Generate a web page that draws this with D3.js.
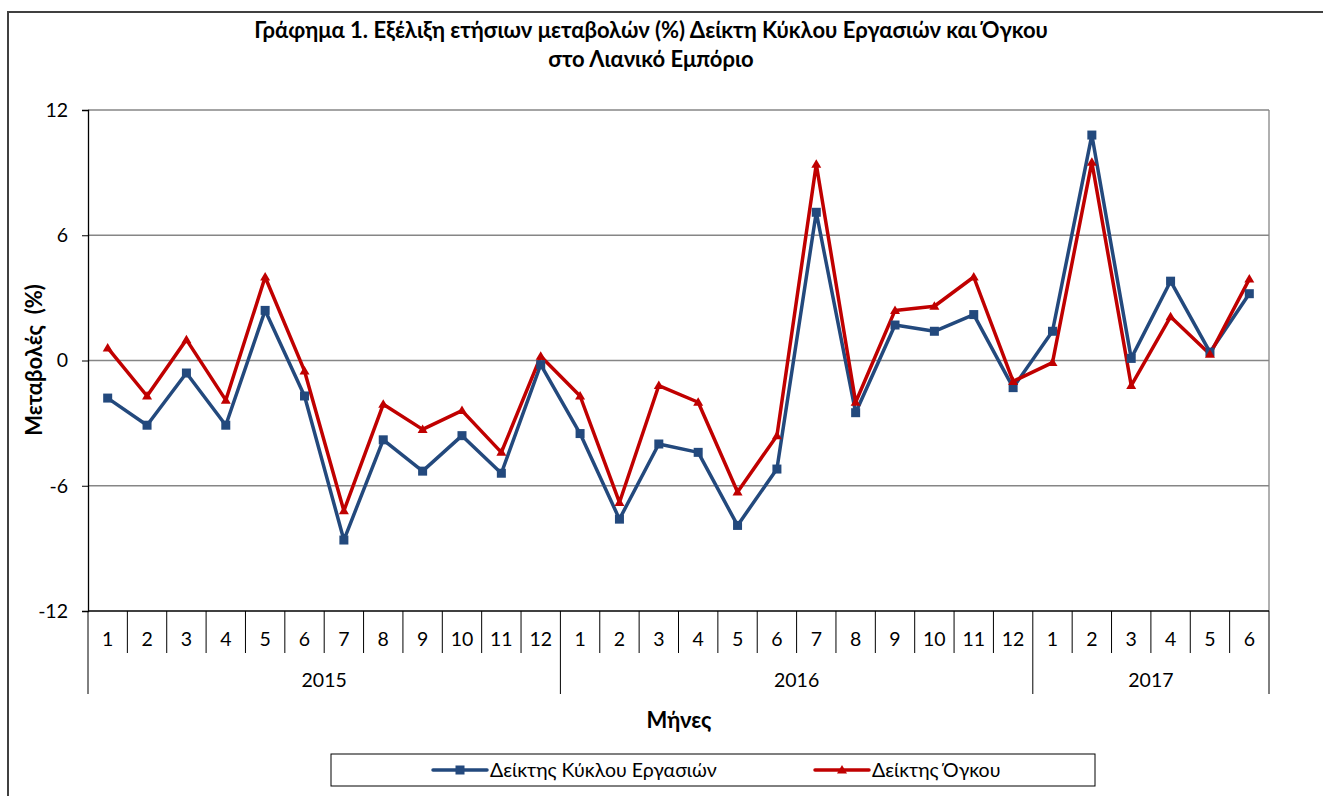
<!DOCTYPE html>
<html>
<head>
<meta charset="utf-8">
<script src="https://cdn.jsdelivr.net/npm/d3@7"></script>
<style>
    body { margin: 0; background: white; }
</style>
</head>
<body>
<script>

// -- data --

var months = ["1","2","3","4","5","6","7","8","9","10","11","12",
              "1","2","3","4","5","6","7","8","9","10","11","12",
              "1","2","3","4","5","6"];
var years = ["2015", "2016", "2017"];
var yearLengths = [12, 12, 6];
var yTicks = [-12, -6, 0, 6, 12];

var turnover = [-1.8, -3.1, -0.6, -3.1, 2.4, -1.7, -8.6, -3.8, -5.3, -3.6, -5.4, -0.2,
                -3.5, -7.6, -4.0, -4.4, -7.9, -5.2, 7.1, -2.5, 1.7, 1.4, 2.2, -1.3,
                1.4, 10.8, 0.1, 3.8, 0.4, 3.2];
var volume = [0.6, -1.7, 1.0, -1.9, 4.0, -0.5, -7.2, -2.1, -3.3, -2.4, -4.4, 0.2,
              -1.7, -6.8, -1.2, -2.0, -6.3, -3.6, 9.4, -2.0, 2.4, 2.6, 4.0, -1.0,
              -0.1, 9.5, -1.2, 2.1, 0.3, 3.9];

var seriesNames = ["Δείκτης Κύκλου Εργασιών", "Δείκτης Όγκου"];


// -- layout --

var width = 1323;
var height = 796;
// note: "top" would clash with window.top
var plotLeft = 88, plotRight = 1269, plotTop = 110, plotBottom = 611;
var font = "Lato, 'Open Sans', sans-serif";
var fs = "19.5px";
var blue = "#23497d";
var red = "#c00000";
var grid = "#868686";

var svg = d3.select("body").append("svg")
    .attr("width", width)
    .attr("height", height);

// outer frame (runs off the picture on the right and bottom)
svg.append("rect")
    .attr("x", 8).attr("y", 12)
    .attr("width", width + 20).attr("height", height + 20)
    .style("fill", "white")
    .style("stroke", "#404040")
    .style("stroke-width", 2);

var idx = d3.range(months.length);

var x = d3.scaleBand()
    .domain(idx)
    .range([plotLeft, plotRight]);

var y = d3.scaleLinear()
    .domain([-12, 12])
    .range([plotBottom, plotTop]);

var cx = function (i) { return x(i) + x.bandwidth() / 2; };

// gridlines
svg.append("g")
    .selectAll("line")
    .data(yTicks.filter(function (t) { return t > -12; }))
    .join("line")
    .attr("x1", plotLeft).attr("x2", plotRight)
    .attr("y1", function (d) { return y(d); })
    .attr("y2", function (d) { return y(d); })
    .style("stroke", grid)
    .style("stroke-width", 1.3);

// right border of plot
svg.append("line")
    .attr("x1", plotRight).attr("x2", plotRight)
    .attr("y1", plotTop).attr("y2", plotBottom)
    .style("stroke", grid)
    .style("stroke-width", 1.3);

// y axis (plain hyphen for negatives, like the original)
var yAxis = svg.append("g")
    .attr("transform", "translate(" + plotLeft + ",0)")
    .call(d3.axisLeft(y)
        .tickValues(yTicks)
        .tickFormat(function (d) { return String(d); })
        .tickSize(6).tickPadding(14));
yAxis.select(".domain").style("stroke", "black").style("stroke-width", 1.3);
yAxis.selectAll(".tick line").style("stroke", "black");
yAxis.selectAll("text")
    .style("font-family", font)
    .style("font-size", fs)
    .style("fill", "black");

// x axis: months
svg.append("line")
    .attr("x1", plotLeft).attr("x2", plotRight)
    .attr("y1", plotBottom).attr("y2", plotBottom)
    .style("stroke", "black")
    .style("stroke-width", 1.3);

var bounds = d3.range(months.length + 1);
svg.append("g")
    .selectAll("line")
    .data(bounds)
    .join("line")
    .attr("x1", function (i) { return plotLeft + i * x.bandwidth(); })
    .attr("x2", function (i) { return plotLeft + i * x.bandwidth(); })
    .attr("y1", plotBottom)
    .attr("y2", plotBottom + 42)
    .style("stroke", "black")
    .style("stroke-width", 1);

svg.append("g")
    .selectAll("text")
    .data(idx)
    .join("text")
    .attr("x", function (i) { return cx(i); })
    .attr("y", plotBottom + 35)
    .attr("text-anchor", "middle")
    .style("font-family", font)
    .style("font-size", fs)
    .text(function (i) { return months[i]; });

// x axis: years
var starts = [0];
yearLengths.forEach(function (n, i) { starts.push(starts[i] + n); });

svg.append("g")
    .selectAll("line")
    .data(starts)
    .join("line")
    .attr("x1", function (i) { return plotLeft + i * x.bandwidth(); })
    .attr("x2", function (i) { return plotLeft + i * x.bandwidth(); })
    .attr("y1", plotBottom + 42)
    .attr("y2", plotBottom + 83)
    .style("stroke", "black")
    .style("stroke-width", 1);

svg.append("g")
    .selectAll("text")
    .data(years)
    .join("text")
    .attr("x", function (d, i) { return plotLeft + (starts[i] + yearLengths[i] / 2) * x.bandwidth(); })
    .attr("y", plotBottom + 76)
    .attr("text-anchor", "middle")
    .style("font-family", font)
    .style("font-size", fs)
    .text(function (d) { return d; });

// lines
var line = d3.line()
    .x(function (d, i) { return cx(i); })
    .y(function (d) { return y(d); });

svg.append("path")
    .datum(turnover)
    .attr("d", line)
    .style("fill", "none")
    .style("stroke", blue)
    .style("stroke-width", 3.5)
    .style("stroke-linejoin", "round");

svg.append("path")
    .datum(volume)
    .attr("d", line)
    .style("fill", "none")
    .style("stroke", red)
    .style("stroke-width", 3.5)
    .style("stroke-linejoin", "round");

// markers
function square(g, px, py) {
    var d = 9;
    return g.append("rect")
        .attr("x", px - d / 2).attr("y", py - d / 2)
        .attr("width", d).attr("height", d)
        .style("fill", blue);
}

function triangle(g, px, py) {
    var s = 5;
    var points =
        px + "," + (py - s) + " " +
        (px + s) + "," + (py + s * 0.7) + " " +
        (px - s) + "," + (py + s * 0.7);
    return g.append("polygon")
        .attr("points", points)
        .style("fill", red);
}

var mk = svg.append("g");
turnover.forEach(function (v, i) { square(mk, cx(i), y(v)); });
volume.forEach(function (v, i) { triangle(mk, cx(i), y(v)); });

// titles
svg.append("text")
    .attr("x", 651).attr("y", 38)
    .attr("text-anchor", "middle")
    .style("font-family", font)
    .style("font-size", "22px")
    .style("font-weight", "bold")
    .text("Γράφημα 1. Εξέλιξη ετήσιων μεταβολών (%) Δείκτη Κύκλου Εργασιών και Όγκου");

svg.append("text")
    .attr("x", 651).attr("y", 67)
    .attr("text-anchor", "middle")
    .style("font-family", font)
    .style("font-size", "22px")
    .style("font-weight", "bold")
    .text("στο Λιανικό Εμπόριο");

svg.append("text")
    .attr("x", 679).attr("y", 728)
    .attr("text-anchor", "middle")
    .style("font-family", font)
    .style("font-size", "22px")
    .style("font-weight", "bold")
    .text("Μήνες");

svg.append("text")
    .attr("transform", "translate(42,360) rotate(-90)")
    .attr("text-anchor", "middle")
    .style("font-family", font)
    .style("font-size", "22px")
    .style("font-weight", "bold")
    .style("white-space", "pre")
    .text("Μεταβολές  (%)");

// legend
var lg = svg.append("g");
lg.append("rect")
    .attr("x", 331).attr("y", 754)
    .attr("width", 764).attr("height", 32)
    .style("fill", "white")
    .style("stroke", "black")
    .style("stroke-width", 1);

var legendX = [433, 815];
var legendColors = [blue, red];
var legendMarks = [square, triangle];
seriesNames.forEach(function (name, i) {
    var lx = legendX[i], ly = 770;
    lg.append("line")
        .attr("x1", lx).attr("x2", lx + 54)
        .attr("y1", ly).attr("y2", ly)
        .style("stroke", legendColors[i])
        .style("stroke-width", 3.5)
        .style("stroke-linecap", "round");
    legendMarks[i](lg, lx + 27, ly);
    lg.append("text")
        .attr("x", lx + 57).attr("y", ly + 7)
        .style("font-family", font)
        .style("font-size", fs)
        .text(name);
});

</script>
</body>
</html>
